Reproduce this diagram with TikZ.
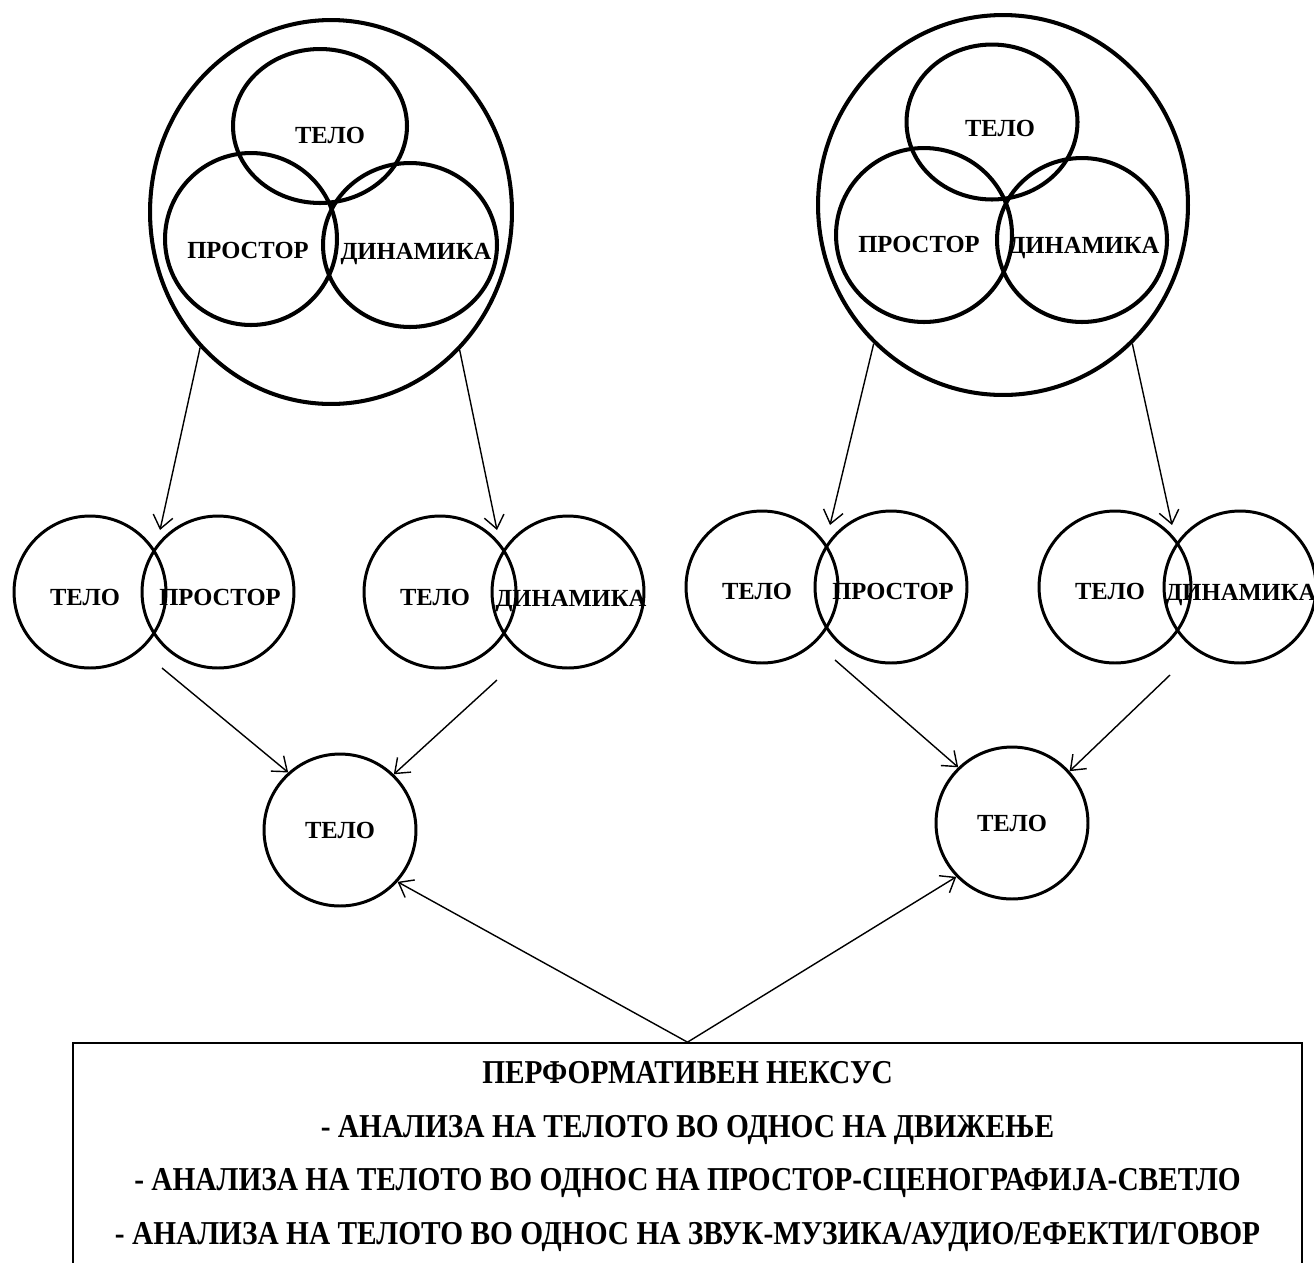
\documentclass[tikz,border=0pt]{standalone}
\usepackage{fontspec}
\setmainfont{Liberation Serif}
\newfontfamily\nexusfont[FakeStretch=0.88]{Liberation Serif}
\usetikzlibrary{arrows.meta,positioning,shapes.geometric}

\begin{document}
\begin{tikzpicture}[
  x=0.02cm, y=-0.02cm,
  ring/.style={ellipse, draw, line width=2pt, inner sep=0pt},
  lbl/.style={inner sep=0pt, font=\bfseries\fontsize{14pt}{16pt}\selectfont},
  venn/.style={ring, line width=2.3pt},
  pair/.style={ring, line width=1.7pt, minimum width=3.04cm, minimum height=3.04cm},
  nexus/.style={draw, line width=1pt, minimum width=24.58cm, minimum height=4.54cm,
    align=center, font=\nexusfont\bfseries\fontsize{19pt}{30.7pt}\selectfont},
  arrow/.style={-{Straight Barb[length=2.6mm,width=4mm]}, line width=0.8pt}
]
\useasboundingbox (0,0) rectangle (1314,1262);
% left half
\node[venn, minimum width=7.24cm, minimum height=7.68cm] (outerA) at (331,212) {};
\node[venn, minimum width=3.48cm, minimum height=3.08cm,
  label={[lbl, xshift=0.2cm, yshift=-0.18cm]center:ТЕЛО}] (teloA) at (320,126) {};
\node[venn, minimum width=3.44cm, minimum height=3.44cm,
  label={[lbl, xshift=-0.06cm, yshift=-0.22cm]center:ПРОСТОР}] (prostorA) at (251,239) {};
\node[venn, minimum width=3.48cm, minimum height=3.28cm,
  label={[lbl, xshift=0.12cm, yshift=-0.18cm]center:ДИНАМИКА}] (dinamikaA) at (410,245) {};
\node[pair, label={[lbl, xshift=-0.1cm, yshift=-0.1cm]center:ТЕЛО}] (pairA1) at (90,592) {};
\node[pair, label={[lbl, xshift=0.04cm, yshift=-0.1cm]center:ПРОСТОР}] (pairA2) at (218,592) {};
\node[pair, label={[lbl, xshift=-0.1cm, yshift=-0.1cm]center:ТЕЛО}] (pairB1) at (440,592) {};
\node[pair, label={[lbl, xshift=0.06cm, yshift=-0.18cm]center:ДИНАМИКА}] (pairB2) at (568,592) {};
\node[pair, label={[lbl]center:ТЕЛО}] (bodyA) at (340,830) {};
% right half
\node[venn, minimum width=7.40cm, minimum height=7.60cm] (outerB) at (1003,205) {};
\node[venn, minimum width=3.42cm, minimum height=3.10cm,
  label={[lbl, xshift=0.16cm, yshift=-0.12cm]center:ТЕЛО}] (teloB) at (992,122) {};
\node[venn, minimum width=3.52cm, minimum height=3.48cm,
  label={[lbl, xshift=-0.1cm, yshift=-0.18cm]center:ПРОСТОР}] (prostorB) at (924,235) {};
\node[venn, minimum width=3.40cm, minimum height=3.28cm,
  label={[lbl, xshift=0.04cm, yshift=-0.16cm]center:ДИНАМИКА}] (dinamikaB) at (1082,240) {};
\node[pair, label={[lbl, xshift=-0.1cm, yshift=-0.08cm]center:ТЕЛО}] (pairC1) at (762,587) {};
\node[pair, label={[lbl, xshift=0.04cm, yshift=-0.08cm]center:ПРОСТОР}] (pairC2) at (891,587) {};
\node[pair, label={[lbl, xshift=-0.1cm, yshift=-0.08cm]center:ТЕЛО}] (pairD1) at (1115,587) {};
\node[pair, label={[lbl, xshift=0.02cm, yshift=-0.16cm]center:ДИНАМИКА}] (pairD2) at (1240,587) {};
\node[pair, label={[lbl]center:ТЕЛО}] (bodyB) at (1012,823) {};
% nexus box
\node[nexus] (nexus) at (687.5,1156.5) {ПЕРФОРМАТИВЕН НЕКСУС\\
- АНАЛИЗА НА ТЕЛОТО ВО ОДНОС НА ДВИЖЕЊЕ\\
- АНАЛИЗА НА ТЕЛОТО ВО ОДНОС НА ПРОСТОР-СЦЕНОГРАФИЈА-СВЕТЛО\\
- АНАЛИЗА НА ТЕЛОТО ВО ОДНОС НА ЗВУК-МУЗИКА/АУДИО/ЕФЕКТИ/ГОВОР};
% free arrow ends
\coordinate (tipA) at (160,530);
\coordinate (tipB) at (497,530);
\coordinate (tipC) at (830,525);
\coordinate (tipD) at (1172,525);
\coordinate (tailA) at (162,668);
\coordinate (tailB) at (497,680);
\coordinate (tailC) at (835,660);
\coordinate (tailD) at (1170,675);
\draw[arrow] (outerA.226) -- (tipA);
\draw[arrow] (outerA.313) -- (tipB);
\draw[arrow] (outerB.227) -- (tipC);
\draw[arrow] (outerB.313) -- (tipD);
\draw[arrow] (tailA) -- (bodyA.132);
\draw[arrow] (tailB) -- (bodyA.46);
\draw[arrow] (tailC) -- (bodyB.134);
\draw[arrow] (tailD) -- (bodyB.42);
\draw[arrow] (nexus.north) -- (bodyA.318);
\draw[arrow] (nexus.north) -- (bodyB.224);
\end{tikzpicture}
\end{document}
